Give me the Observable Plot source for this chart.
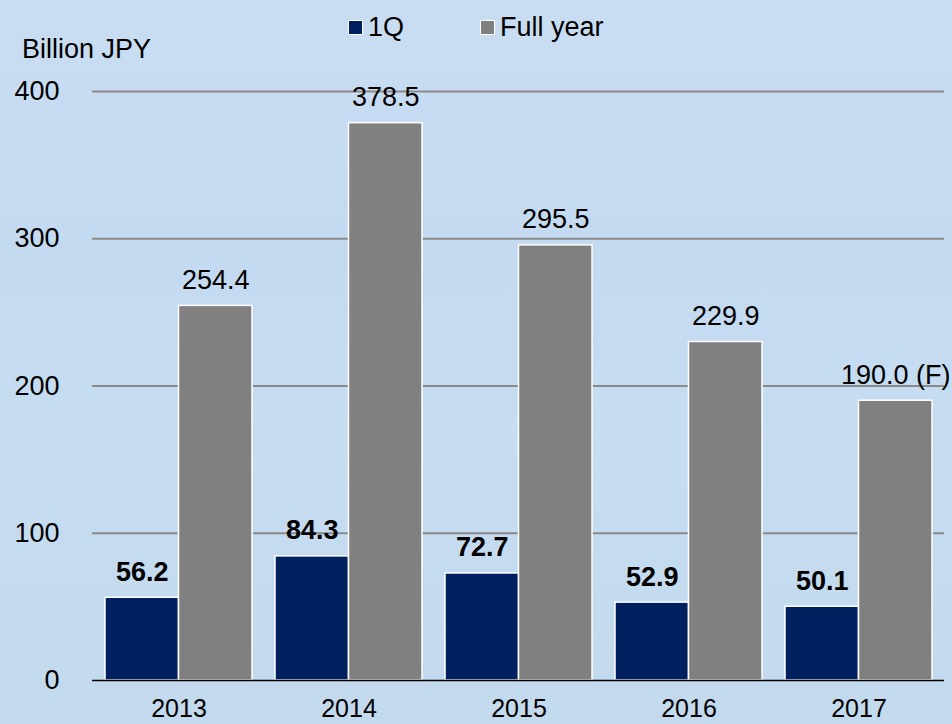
<!DOCTYPE html>
<html>
<head>
<meta charset="utf-8">
<script src="https://cdn.jsdelivr.net/npm/d3@7"></script>
<script src="https://cdn.jsdelivr.net/npm/@observablehq/plot@0.6"></script>
<style>
  html, body { margin: 0; padding: 0; }
  body { width: 952px; height: 724px; overflow: hidden; }
  #wrap {
    position: relative; width: 952px; height: 724px;
    background: linear-gradient(180deg, #c9ddf2 0%, #c3daf1 35%, #c6dcf1 60%, #c2d9ee 100%);
    font-family: "Liberation Sans", Arial, sans-serif;
  }
  #chart { position: absolute; left: 0; top: 0; }
  .unit { position: absolute; left: 22px; top: 36px; font-size: 27px; line-height: 27px; color: #000; }
  .legend { position: absolute; left: 348px; top: 14px; display: flex; align-items: center; font-size: 27px; line-height: 27px; color: #000; }
  .legend .item { display: flex; align-items: center; }
  .legend .item + .item { margin-left: 76px; }
  .legend .sw { width: 13px; height: 13px; border: 1.5px solid #fff; margin-right: 5px; }
</style>
</head>
<body>
<div id="wrap">
  <div id="chart"></div>
  <div class="unit">Billion JPY</div>
  <div class="legend" id="legend"></div>
</div>
<script>
const years = ["2013", "2014", "2015", "2016", "2017"];
const q1Values = [56.2, 84.3, 72.7, 52.9, 50.1];
const fullYearValues = [254.4, 378.5, 295.5, 229.9, 190.0];
const q1Labels = ["56.2", "84.3", "72.7", "52.9", "50.1"];
const fullYearLabels = ["254.4", "378.5", "295.5", "229.9", "190.0 (F)"];
const seriesNames = ["1Q", "Full year"];
const seriesColors = ["#002060", "#808080"];
const yTicks = [0, 100, 200, 300, 400];
const unitLabel = "Billion JPY";

const data = years.map((year, i) => ({
  year, q1: q1Values[i], full: fullYearValues[i], q1Label: q1Labels[i], fullLabel: fullYearLabels[i]
}));

const W = 952, H = 724;
const mL = 92, mR = 8, mT = 91, mB = 44;
const padIn = 0.1366, padOut = 0.0705;
const step = (W - mL - mR) / (years.length - padIn + 2 * padOut);
const bw = step * (1 - padIn);
const half = bw / 2;

const plot = Plot.plot({
  width: W, height: H,
  marginLeft: mL, marginRight: mR, marginTop: mT, marginBottom: mB,
  style: { background: "transparent", fontFamily: "Liberation Sans, Arial, sans-serif", fontSize: "27px", color: "#000", overflow: "visible" },
  x: { type: "band", domain: years, paddingInner: padIn, paddingOuter: padOut, label: null },
  y: { domain: [0, 400], label: null },
  marks: [
    Plot.ruleY(yTicks.filter(d => d > 0), { stroke: "#8a8a8a", strokeWidth: 2 }),
    Plot.barY(data, { x: "year", y: "q1", fill: seriesColors[0], stroke: "#fff", strokeWidth: 1.5, insetRight: half }),
    Plot.barY(data, { x: "year", y: "full", fill: seriesColors[1], stroke: "#fff", strokeWidth: 1.5, insetLeft: half }),
    Plot.ruleY([0], { stroke: "#000", strokeWidth: 1.5 }),
    Plot.text(data, { x: "year", y: "q1", text: "q1Label", dx: -half / 2, dy: -17, lineAnchor: "bottom", fontWeight: "bold", fontSize: 27, fill: "#000" }),
    Plot.text(data, { x: "year", y: "full", text: "fullLabel", dx: half / 2, dy: -17, lineAnchor: "bottom", fontSize: 27, fill: "#000" }),
    Plot.axisY({ ticks: yTicks, tickSize: 0, tickPadding: 33, fontSize: 27, label: null }),
    Plot.axisX({ tickSize: 0, tickPadding: 19, fontSize: 25, label: null })
  ]
});
document.getElementById("chart").appendChild(plot);

const legend = document.getElementById("legend");
seriesNames.forEach((name, i) => {
  const item = document.createElement("div");
  item.className = "item";
  const sw = document.createElement("span");
  sw.className = "sw";
  sw.style.background = seriesColors[i];
  const t = document.createElement("span");
  t.textContent = name;
  item.appendChild(sw);
  item.appendChild(t);
  legend.appendChild(item);
});
</script>
</body>
</html>
